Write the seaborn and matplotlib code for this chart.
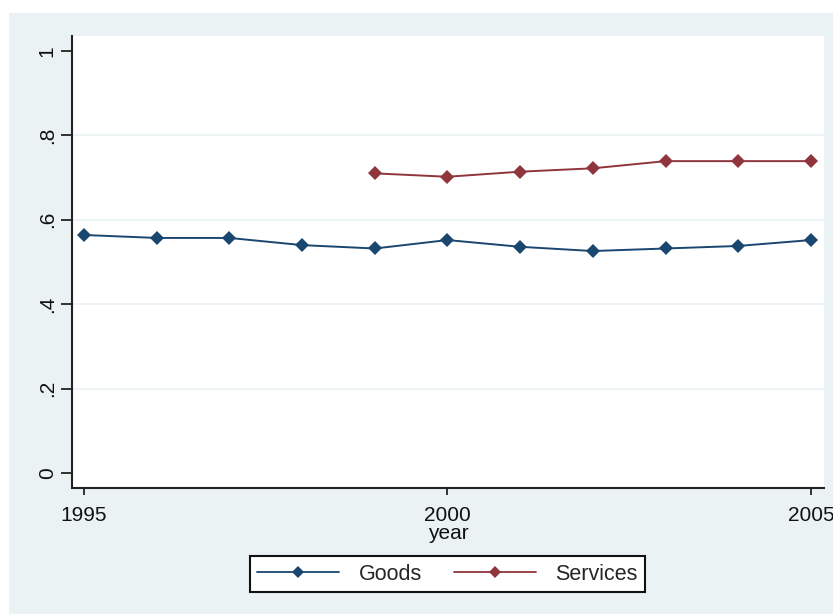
import matplotlib
matplotlib.use("Agg")
import matplotlib.pyplot as plt
import seaborn as sns
import pandas as pd
from matplotlib.patches import Rectangle
from matplotlib.lines import Line2D

# Series values by year
goods_years = [1995, 1996, 1997, 1998, 1999, 2000, 2001, 2002, 2003, 2004, 2005]
goods_vals = [0.564, 0.557, 0.557, 0.540, 0.532, 0.552, 0.536, 0.526, 0.532, 0.538, 0.552]
services_years = [1999, 2000, 2001, 2002, 2003, 2004, 2005]
services_vals = [0.710, 0.702, 0.714, 0.722, 0.739, 0.739, 0.739]

y_ticks = [0, 0.2, 0.4, 0.6, 0.8, 1]
y_ticklabels = ["0", ".2", ".4", ".6", ".8", "1"]
x_ticks = [1995, 2000, 2005]

df = pd.concat([
    pd.DataFrame({"year": goods_years, "value": goods_vals, "series": "Goods"}),
    pd.DataFrame({"year": services_years, "value": services_vals, "series": "Services"}),
], ignore_index=True)

sns.set_theme(style="white")
plt.rcParams["font.family"] = ["Liberation Sans", "DejaVu Sans"]

BG = "#eaf2f3"
palette = {"Goods": "#1a476f", "Services": "#90353b"}

fig = plt.figure(figsize=(8.33, 6.14), dpi=100, facecolor="white")
fig.patches.append(Rectangle((9 / 833, 0), 1 - 9 / 833, (614 - 13) / 614,
                             transform=fig.transFigure, facecolor=BG,
                             edgecolor="none", zorder=-10))

ax = fig.add_axes([72 / 833, (614 - 488) / 614, (824 - 72) / 833, (488 - 36) / 614])
ax.set_facecolor("white")

sns.lineplot(data=df, x="year", y="value", hue="series", palette=palette,
             style="series", markers={"Goods": "D", "Services": "D"},
             dashes=False, markersize=7.5, linewidth=1.4, markeredgewidth=0,
             ax=ax, legend=False)

ax.set_xlim(1994.835, 2005.18)
ax.set_ylim(-0.0355, 1.0355)
ax.set_yticks(y_ticks)
ax.set_yticklabels(y_ticklabels, rotation=90, va="center")
ax.set_xticks(x_ticks)
ax.tick_params(axis="y", length=8, width=1.3, color="#222222", pad=3,
               labelsize=15, labelcolor="#111111", left=True)
ax.tick_params(axis="x", length=5, width=1.3, color="#222222", pad=8,
               labelsize=15, labelcolor="#111111", bottom=True)

for y in [0.2, 0.4, 0.6, 0.8]:
    ax.axhline(y, color=BG, linewidth=1.2, zorder=0)

for side in ["top", "right"]:
    ax.spines[side].set_visible(False)
for side in ["left", "bottom"]:
    ax.spines[side].set_color("#222222")
    ax.spines[side].set_linewidth(1.5)

ax.set_xlabel("year", fontsize=15, color="#111111", labelpad=1)
ax.xaxis.set_label_coords(0.5, -0.08)
ax.set_ylabel("")

# Legend below the plot region
handles = [Line2D([], [], color=palette[s], marker="D", markersize=6,
                  markeredgewidth=0, linewidth=1.3) for s in ["Goods", "Services"]]
leg = fig.legend(handles, ["Goods", "Services"], loc="center",
                 bbox_to_anchor=(447.5 / 833, 1 - 574 / 614), ncol=2,
                 frameon=True, fancybox=False, fontsize=15.5, handlelength=3.8,
                 numpoints=1, columnspacing=1.5, handletextpad=0.9,
                 borderpad=0.35, borderaxespad=0)
leg.get_frame().set_edgecolor("#111111")
leg.get_frame().set_linewidth(1.5)
leg.get_frame().set_facecolor("white")
leg.get_frame().set_alpha(1)

fig.savefig("out.png", dpi=100, facecolor="white")
